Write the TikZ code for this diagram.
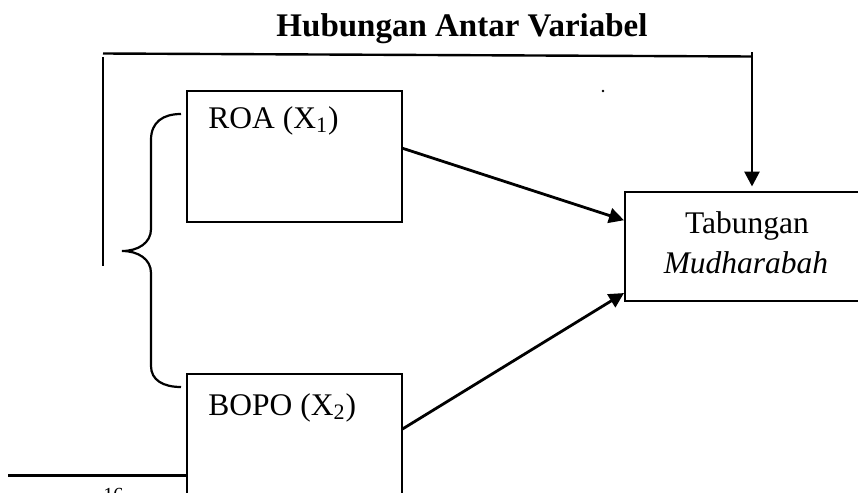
\documentclass[tikz,border=0pt]{standalone}
\usepackage{fontspec}
\setmainfont{Liberation Serif}
\usetikzlibrary{arrows.meta}
\tikzset{
  box/.style={draw, line width=1pt, rectangle, inner sep=0pt},
  lbl/.style={inner sep=0pt, font=\fontsize{15.75}{20}\selectfont},
  arr/.style={line width=1.4pt, -{Triangle[length=7.5pt,width=7.5pt]}},
  thinline/.style={line width=1pt},
}
\begin{document}
\begin{tikzpicture}[x=0.5pt,y=-0.5pt]
\useasboundingbox (0,0) rectangle (858,493);
\clip (0,0) rectangle (858,493);
% title
\node[lbl, font=\fontsize{16.5}{20}\selectfont\bfseries, anchor=base] (title) at (462,36) {Hubungan Antar Variabel};
% boxes
\node[box, minimum width=107.25pt, minimum height=65.25pt] (roa) at (294.25,156.25) {};
\node[box, minimum width=107.25pt, minimum height=73pt] (bopo) at (294.25,447) {};
\node[box, minimum width=122.5pt, minimum height=54.75pt] (tab) at (747.5,246.25) {};
% texts
\node[lbl, anchor=base west] (roat) at (208,128) {ROA (X\textsubscript{1})};
\node[lbl, anchor=base west] (bopot) at (208,415) {BOPO (X\textsubscript{2})};
\node[lbl, anchor=base] (tabt1) at (747,233) {Tabungan};
\node[lbl, anchor=base] (tabt2) at (746,273) {\itshape Mudharabah};
% arrows into Tabungan
\draw[arr] ([yshift=4pt]roa.east) -- ([yshift=13pt]tab.west);
\draw[arr] ([yshift=9pt]bopo.east) -- ([yshift=-23.4pt]tab.west);
% top connector
\coordinate (tl) at (103,53.5);
\coordinate (tr) at (752,56.5);
\coordinate (vtop) at (752,52);
\draw[line width=1.2pt] (tl) -- (tr);
\draw[arr, shorten >=2pt] (vtop) -- (vtop |- tab.north);
% left vertical line
\coordinate (lv1) at (103,57);
\coordinate (lv2) at (103,266);
\draw[thinline] (lv1) -- (lv2);
% brace
\coordinate (bt) at (181,114);
\coordinate (bm) at (122,251);
\coordinate (bb) at (181,387);
\draw[line width=1.1pt] (bt) .. controls (163,114) and (151,122) .. (151,140)
  -- (151,229) .. controls (151,243) and (138,251) .. (bm)
  .. controls (138,251) and (151,259) .. (151,273)
  -- (151,366) .. controls (151,380) and (163,387) .. (bb);
% bottom-left line
\coordinate (bl) at (8,475);
\draw[line width=1.5pt] (bl) -- (bl -| bopo.west);
% footnote mark, cut off by page edge
\node[inner sep=0pt, anchor=north west, font=\fontsize{10}{12}\selectfont] (fn) at (103,488) {16};
% stray dot
\fill (603,91) circle[radius=1.3];
\end{tikzpicture}
\end{document}
